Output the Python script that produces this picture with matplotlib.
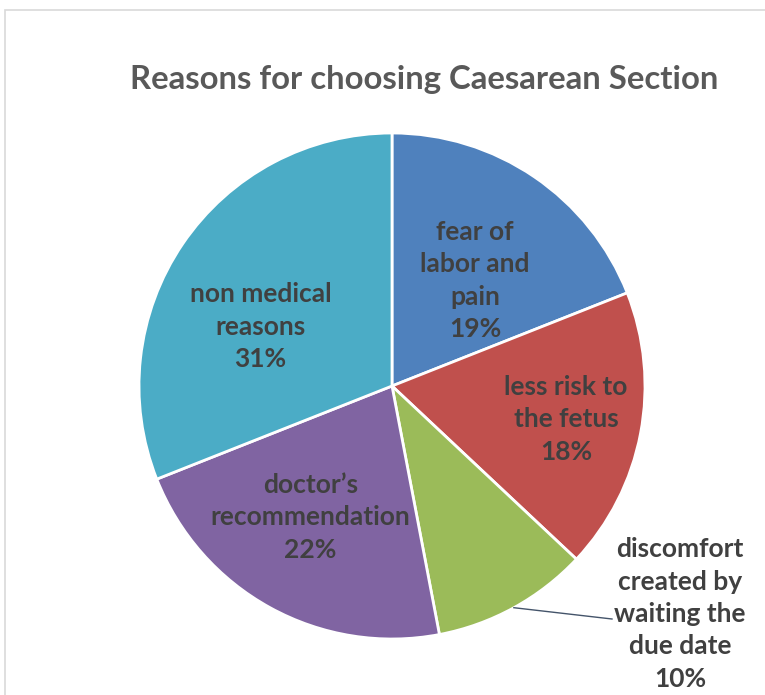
import numpy as np
import matplotlib
matplotlib.use("Agg")
import matplotlib.pyplot as plt
from matplotlib.patches import Rectangle

labels = ["fear of\nlabor and\npain", "less risk to\nthe fetus",
          "discomfort\ncreated by\nwaiting the\ndue date", "doctor\u2019s\nrecommendation",
          "non medical\nreasons"]
values = [19, 18, 10, 22, 31]
colors = ["#4F81BD", "#C0504D", "#9BBB59", "#8064A2", "#4BACC6"]
title = "Reasons for choosing Caesarean Section"

W, H = 765, 695
fig = plt.figure(figsize=(W / 100, H / 100), dpi=100)
fig.patch.set_facecolor("white")

# frame (top & left visible)
fig.patches.append(Rectangle((5 / W, -0.05), 1.2, 1 - 10 / H + 0.05, transform=fig.transFigure,
                             fill=False, edgecolor="#D9D9D9", linewidth=1.2))

cx, cy, r = 392, 386, 253
ax = fig.add_axes([(cx - r) / W, (H - cy - r) / H, 2 * r / W, 2 * r / H])

wedges, _ = ax.pie(values, colors=colors, startangle=90, counterclock=False, radius=1,
                   wedgeprops=dict(edgecolor="white", linewidth=2), center=(0, 0))
ax.set_xlim(-1, 1)
ax.set_ylim(-1, 1)
ax.set_aspect("auto")
ax.axis("off")

tot = sum(values)
cum = np.cumsum([0] + values)
mid = [(cum[i] + cum[i + 1]) / 2 / tot * 360 for i in range(len(values))]  # clockwise from top

font = ["Lato", "DejaVu Sans"]
fs = 19
ls = 1.42
txtcol = "#404040"

# label placements: (angle offset deg, radial fraction)
place = {0: (4, 0.53), 1: (0, 0.70), 3: (3, 0.61), 4: (-10, 0.57)}
for i, (lab, v) in enumerate(zip(labels, values)):
    s = f"{lab}\n{v}%"
    if i in place:
        da, rf = place[i]
        a = np.deg2rad(mid[i] + da)
        x, y = rf * np.sin(a), rf * np.cos(a)
        ax.text(x, y, s, ha="center", va="center", fontsize=fs, fontweight="bold",
                color=txtcol, family=font, linespacing=ls)
    else:
        a = np.deg2rad(mid[i])
        x0, y0 = np.sin(a), np.cos(a)
        x1, y1 = (612 - cx) / r, -(619 - cy) / r
        ax.plot([x0, x1], [y0, y1], color="#44546A", linewidth=1, clip_on=False)
        ax.text((680 - cx) / r, -(614 - cy) / r, s, ha="center", va="center", fontsize=fs,
                fontweight="bold", color=txtcol, family=font, linespacing=ls, clip_on=False)

fig.text(424 / W, 1 - 80 / H, title, ha="center", va="center", fontsize=23.7,
         fontweight="bold", color="#595959", family=font)

fig.savefig("out.png", dpi=100, facecolor="white")
